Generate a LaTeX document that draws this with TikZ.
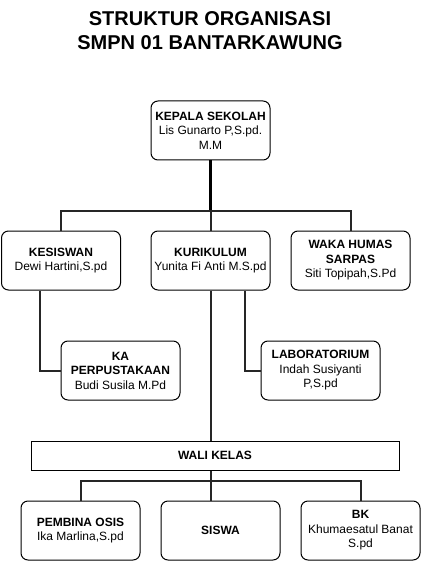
\documentclass[tikz,border=0pt]{standalone}
\usepackage{fontspec}
\setmainfont{Liberation Sans}
\begin{document}
\begin{tikzpicture}[x=1pt,y=-1pt,
  box/.style={draw=black,line width=1pt,rounded corners=7pt,minimum width=119pt,minimum height=59pt,align=center,inner sep=1pt,font=\fontsize{12}{14.5}\selectfont,fill=white},
  flat/.style={draw=black,line width=1pt,minimum width=368pt,minimum height=29pt,inner sep=1pt,font=\fontsize{12}{14.5}\selectfont\bfseries,fill=white},
  conn/.style={draw=black!85,line width=2pt},
  trunk/.style={draw=black,line width=2.8pt}]
\useasboundingbox (0,0) rectangle (421,561);
\node[align=center,font=\fontsize{20}{24}\selectfont\bfseries] (title) at (210,31) {STRUKTUR ORGANISASI\\SMPN 01 BANTARKAWUNG};
\coordinate (bar) at (210.5,210.5);
\node[box] (kepala) at (210.5,130.5) {\textbf{KEPALA SEKOLAH}\\Lis Gunarto P,S.pd.\\M.M};
\node[box] (kes) at (61,260.5) {\textbf{KESISWAN}\\Dewi Hartini,S.pd};
\node[box] (kur) at (210.5,260.5) {\textbf{KURIKULUM}\\Yunita Fi Anti M.S.pd};
\node[box] (waka) at (350.5,260.5) {\textbf{WAKA HUMAS}\\\textbf{SARPAS}\\Siti Topipah,S.Pd};
\node[box] (ka) at (120.5,370.5) {\textbf{KA}\\\textbf{PERPUSTAKAAN}\\Budi Susila M.Pd};
\node[box] (lab) at (320.5,370.5) {\textbf{LABORATORIUM}\\Indah Susiyanti\\P,S.pd};
\node[flat] (wali) at (215,455.5) {WALI KELAS};
\node[box] (pemb) at (80.5,530.5) {\textbf{PEMBINA OSIS}\\Ika Marlina,S.pd};
\node[box] (siswa) at (220.5,530.5) {\textbf{SISWA}};
\node[box] (bk) at (360.5,530.5) {\textbf{BK}\\Khumaesatul Banat\\S.pd};
\draw[trunk] (kepala.south) -- (kepala.south |- bar);
\draw[conn] (kepala.south |- bar) -| (kes.north);
\draw[conn] (kepala.south |- bar) -| (waka.north);
\draw[conn] (kepala.south |- bar) -- (kur.north);
\draw[conn] ([xshift=-21pt]kes.south) |- (ka.west);
\draw[conn] ([xshift=34pt]kur.south) |- (lab.west);
\draw[conn] (kur.south) -- (kur.south |- wali.north);
\draw[conn] (kur.south |- wali.south) -- (kur.south |- siswa.north);
\draw[conn] ([yshift=-10.5pt]kur.south |- wali.south) -| (pemb.north);
\draw[conn] ([yshift=-10.5pt]kur.south |- wali.south) -| (bk.north);
\end{tikzpicture}
\end{document}
